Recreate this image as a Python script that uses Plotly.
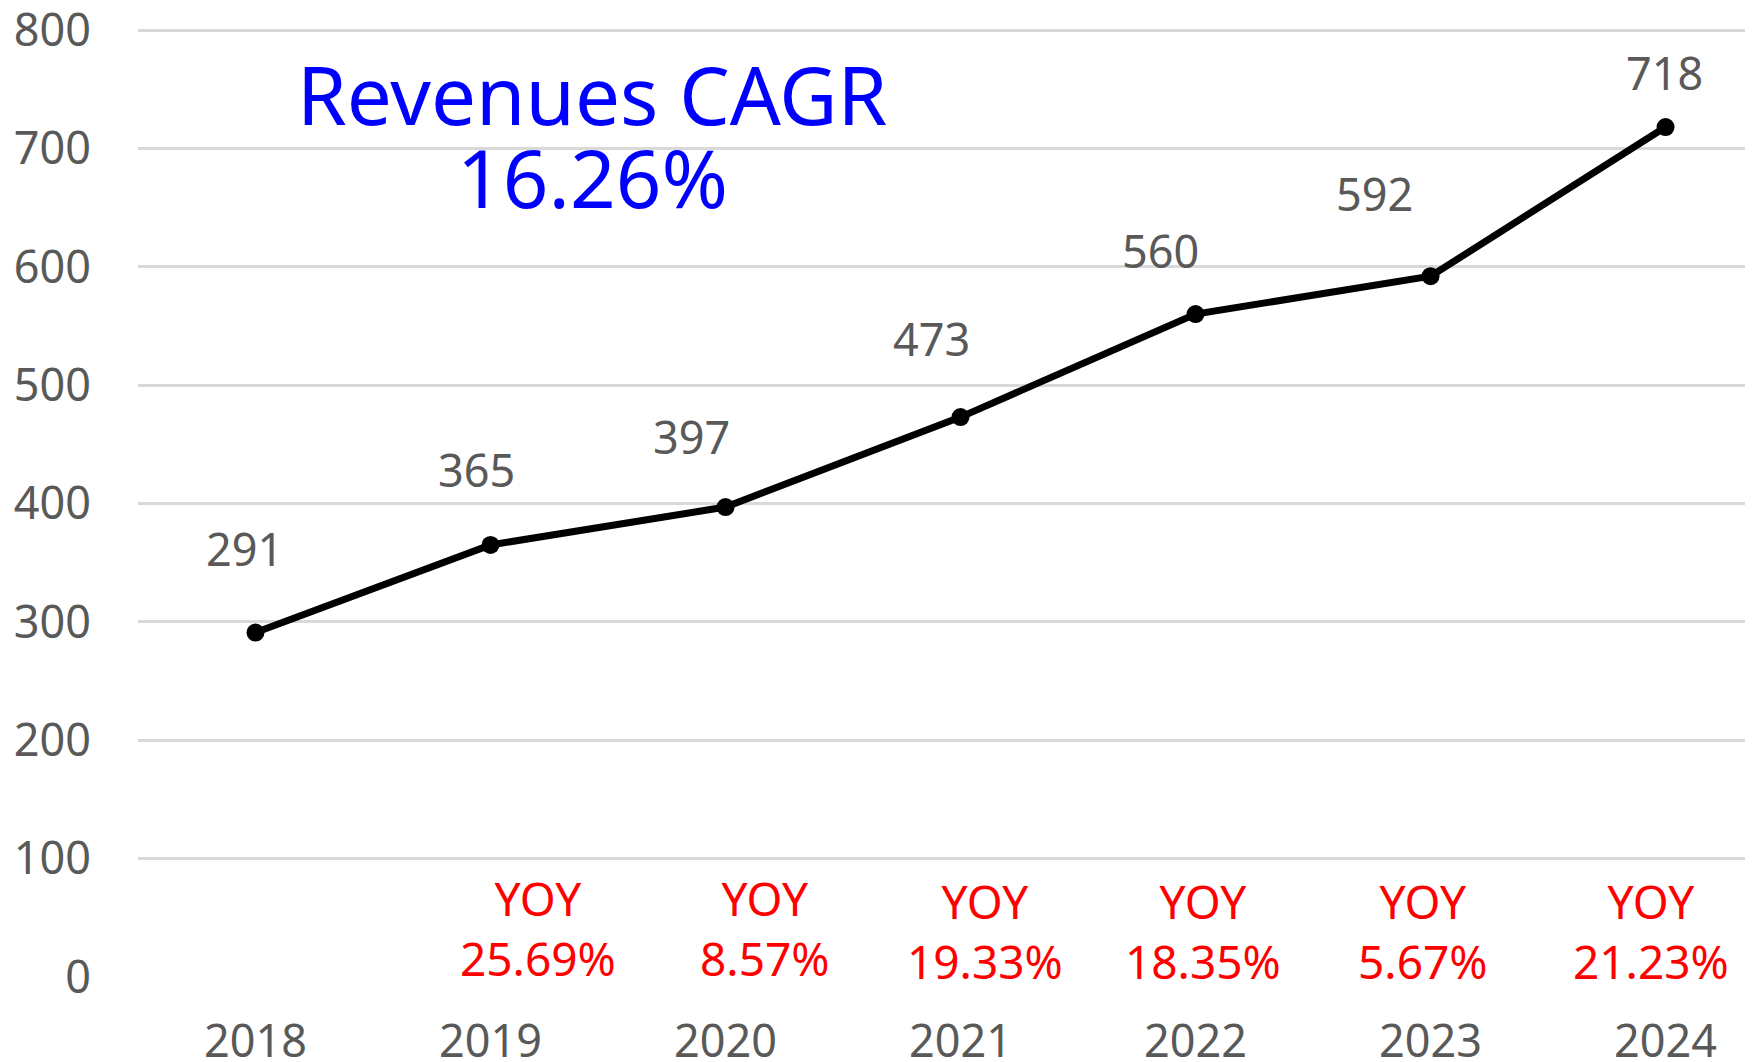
import plotly.graph_objects as go

years = ["2018", "2019", "2020", "2021", "2022", "2023", "2024"]
revenues = [291, 365, 397, 473, 560, 592, 718]
yoy = [None, 25.69, 8.57, 19.33, 18.35, 5.67, 21.23]
cagr = 16.26
y_ticks = [0, 100, 200, 300, 400, 500, 600, 700, 800]

# label offsets in pixels (styling, not data)
label_dx = [-11, -14, -34, -29, -35, -56, -1]
label_dy = [84, 75, 71, 79, 64, 83, 55]
yoy_dx = [0, 47, 39, 24, 7, -8, -15]
yoy_dy = [0, 3, 3, 0, 0, 0, 0]

GRAY = "#595959"
FONT = "Noto Sans"

xi = list(range(len(years)))

fig = go.Figure()
fig.add_trace(go.Scatter(
    x=xi, y=revenues, mode="lines+markers",
    line=dict(color="black", width=7),
    marker=dict(color="black", size=18),
    hoverinfo="skip", showlegend=False, cliponaxis=False,
))

annotations = []
for i, v in enumerate(revenues):
    annotations.append(dict(
        x=i, y=v, xref="x", yref="y", text=str(v), showarrow=False,
        xshift=label_dx[i], yshift=label_dy[i],
        font=dict(family=FONT, size=45, color=GRAY),
        xanchor="center", yanchor="middle",
    ))
for i, g in enumerate(yoy):
    if g is None:
        continue
    annotations.append(dict(
        x=i, y=39, xref="x", yref="y", text=f"YOY<br>{g:.2f}%", showarrow=False,
        xshift=yoy_dx[i], yshift=yoy_dy[i],
        font=dict(family=FONT, size=46, color="#FF0000"),
        xanchor="center", yanchor="middle",
    ))
annotations.append(dict(
    x=0.2814, y=746, xref="paper", yref="y",
    text="Revenues CAGR", showarrow=False,
    font=dict(family=FONT, size=80, color="#0000FF"),
    xanchor="center", yanchor="middle",
))
annotations.append(dict(
    x=0.2814, y=676, xref="paper", yref="y",
    text=f"{cagr:.2f}%", showarrow=False,
    font=dict(family=FONT, size=80, color="#0000FF"),
    xanchor="center", yanchor="middle",
))

fig.update_layout(
    width=1745, height=1054,
    margin=dict(l=130, r=0, t=20, b=85, autoexpand=False),
    paper_bgcolor="white", plot_bgcolor="white",
    annotations=annotations,
    xaxis=dict(
        range=[-0.5, 6.372], tickmode="array", tickvals=xi, ticktext=years,
        showgrid=False, zeroline=False, showline=False, automargin=False,
        tickfont=dict(family=FONT, size=45, color=GRAY),
        ticklabelstandoff=34, ticklabeloverflow="allow",
    ),
    yaxis=dict(
        range=[0, 801.7], tickmode="array", tickvals=y_ticks,
        ticktext=[str(t) for t in y_ticks],
        showgrid=True, gridcolor="#D9D9D9", gridwidth=2.5,
        zeroline=False, showline=False, automargin=False,
        tickfont=dict(family=FONT, size=45, color=GRAY),
        ticklabelstandoff=46, ticklabeloverflow="allow",
    ),
)

fig.write_html("out.html")
